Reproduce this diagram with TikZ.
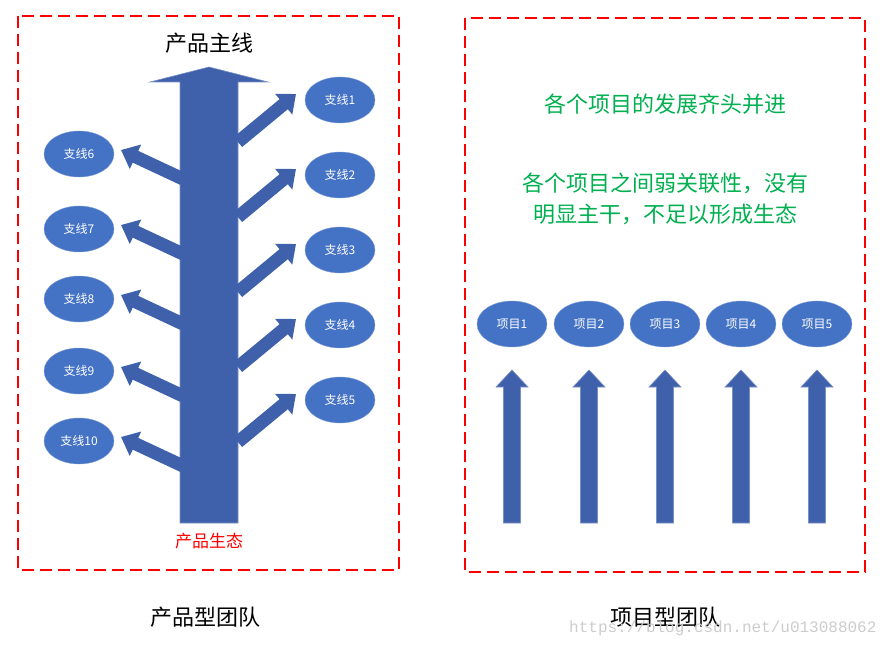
\documentclass[tikz,border=0pt]{standalone}
\usepackage{fontspec}
\setmainfont{Noto Sans CJK SC}
\newfontfamily\wm{Liberation Mono}
\usetikzlibrary{arrows.meta,shapes.geometric}
\definecolor{blu}{HTML}{4472C4}
\definecolor{arr}{HTML}{3F61AB}
\definecolor{grn}{HTML}{00B050}
\begin{document}
\begin{tikzpicture}[x=1pt,y=-1pt,
  frame/.style={draw=red,line width=1.6pt,dash pattern=on 12pt off 6pt},
  ell/.style={ellipse,draw=blu!70!white,fill=blu,minimum width=70pt,minimum height=46pt,text=white,font=\fontsize{12}{14}\selectfont,inner sep=0pt},
  br/.style={draw=arr!70!white,fill=arr,line width=0.6pt},
  sarr/.style={arr,line width=13pt,-{Triangle[width=26pt,length=16pt]}},
  big/.style={font=\fontsize{22}{26}\selectfont},
  gt/.style={text=grn,font=\fontsize{22}{26}\selectfont}]
\useasboundingbox (0,0) rectangle (889,647);
\draw[frame] (18,16) rectangle (399,570);
\draw[frame] (465,18) rectangle (865,572);
% main arrow
\draw[br] (180,523) -- (180,82) -- (150,82) -- (209,67) -- (268,82) -- (238,82) -- (238,523) -- cycle;
\node[big] (title) at (209,43) {产品主线};
\node[text=red,font=\fontsize{17}{20}\selectfont] (eco) at (209,541) {产品生态};
% right branches
\foreach \i/\y in {1/100,2/175,3/250,4/325,5/400}{
  \node[ell] (b\i) at (340,\y) {支线\i};
  \coordinate (s\i) at (238,{\y+42});
  \coordinate (t\i) at (296,{\y-6});
  \draw[sarr] (s\i) -- (t\i);
}
% left branches
\foreach \i/\y in {6/154,7/229,8/299,9/371,10/441}{
  \node[ell] (b\i) at (79,\y) {支线\i};
  \coordinate (s\i) at (183,{\y+25});
  \coordinate (t\i) at (121,{\y-4});
  \draw[sarr] (s\i) -- (t\i);
}
% right panel
\node[gt] (g1) at (665,104) {各个项目的发展齐头并进};
\node[gt] (g2) at (665,183) {各个项目之间弱关联性，没有};
\node[gt] (g3) at (665,214) {明显主干，不足以形成生态};
\foreach \i/\x in {1/512,2/589,3/665,4/741,5/817}{
  \node[ell] (p\i) at (\x,324) {项目\i};
  \draw[br] ({\x-8.5},523) -- ({\x-8.5},387) -- ({\x-16},387) -- (\x,370) -- ({\x+16},387) -- ({\x+8.5},387) -- ({\x+8.5},523) -- cycle;
}
\node[big] (l1) at (205,617) {产品型团队};
\node[big] (l2) at (665,617) {项目型团队};
\node[text=black!20,font=\wm\fontsize{16}{18}\selectfont,anchor=east] (wm) at (880,628) {https://blog.csdn.net/u013088062};
\end{tikzpicture}
\end{document}
